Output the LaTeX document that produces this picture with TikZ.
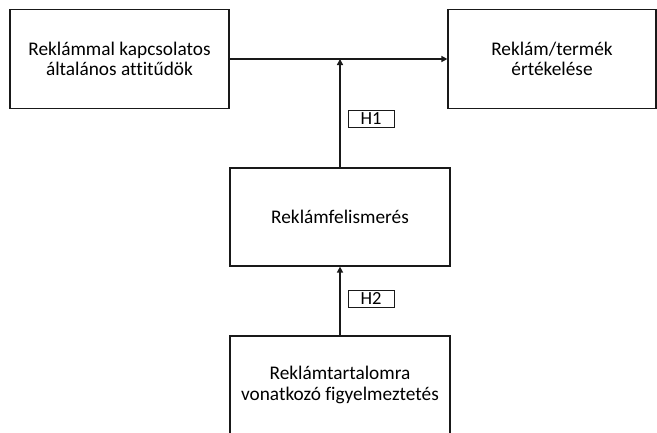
\documentclass[tikz,border=0pt]{standalone}
\usepackage{fontspec}
\setmainfont{Carlito}[Ligatures={NoCommon}]
\usetikzlibrary{arrows.meta}
\begin{document}
\begin{tikzpicture}[x=1pt,y=-1pt,
  box/.style={draw=black!90, line width=1.2pt, align=center, inner sep=0pt,
    font=\fontsize{19.3}{20.5}\selectfont},
  hlabel/.style={draw=black!90, line width=1pt, inner sep=0pt, minimum width=46pt,
    minimum height=17pt, font=\fontsize{18.5}{20}\selectfont},
  conn/.style={draw=black!90, line width=1.7pt, -{Triangle[length=6pt,width=6pt]}}]
\useasboundingbox (0,0) rectangle (657,432);
\clip (0,0) rectangle (657,432);
\node[box, minimum width=219pt, minimum height=99pt] (left) at (119.5,59) {Reklámmal kapcsolatos\\általános attitűdök};
\node[box, minimum width=208pt, minimum height=99pt] (right) at (552,59) {Reklám/termék\\értékelése};
\node[box, minimum width=220pt, minimum height=98pt] (mid) at (340,217) {Reklámfelismerés};
\node[box, minimum width=220pt, minimum height=98pt] (bot) at (340,385) {Reklámtartalomra\\vonatkozó figyelmeztetés};
\coordinate (j) at (340,59);
\node[hlabel] (h1) at (371,119) {H1};
\node[hlabel] (h2) at (371,298.5) {H2};
\draw[conn] (left.east) -- (right.west);
\draw[conn] (mid.north) -- (j);
\draw[conn] (bot.north) -- (mid.south);
\end{tikzpicture}
\end{document}
